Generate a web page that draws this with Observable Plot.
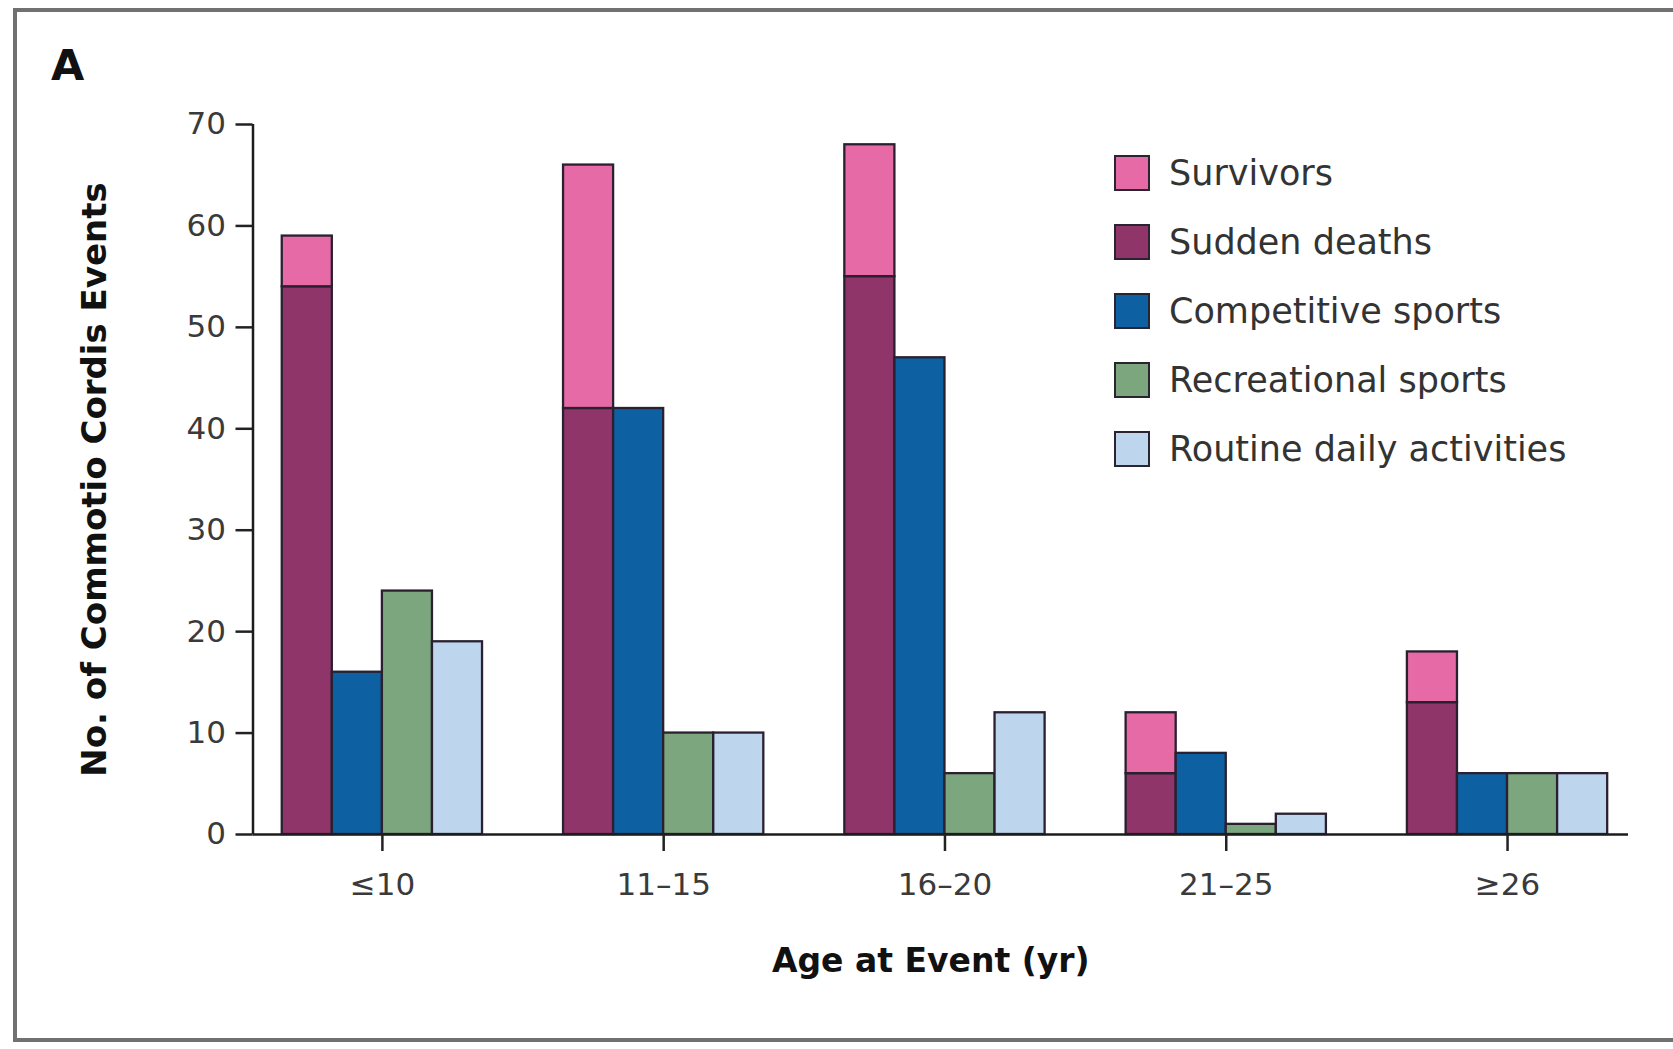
<!DOCTYPE html>
<html>
<head>
<meta charset="utf-8">
<script src="https://cdn.jsdelivr.net/npm/d3@7"></script>
<script src="https://cdn.jsdelivr.net/npm/@observablehq/plot@0.6"></script>
<style>
  html, body { margin: 0; padding: 0; background: #fff; }
  #panel { position: relative; width: 1673px; height: 1049px; overflow: hidden; font-family: "DejaVu Sans", sans-serif; }
  #border { position: absolute; left: 13px; top: 8px; width: 1720px; height: 1034px; border: 4px solid #717171; box-sizing: border-box; }
  #chart { position: absolute; left: 0; top: 0; }
  #tag { position: absolute; left: 51px; top: 44px; font-size: 43px; line-height: 1; font-weight: 700; color: #111; }
  #legend { position: absolute; left: 0; top: 0; }
  .row { position: absolute; display: flex; align-items: center; height: 36px; }
  .sw { width: 36px; height: 36px; box-sizing: border-box; border: 2px solid #2a2430; }
  .lab { margin-left: 19px; font-size: 35px; color: #333; line-height: 1; white-space: nowrap; }
</style>
</head>
<body>
<div id="panel">
  <div id="border"></div>
  <div id="chart"></div>
  <div id="tag">A</div>
  <div id="legend"></div>
</div>
<script>
// Commotio cordis events by age at event
const ageGroups = ["≤10", "11–15", "16–20", "21–25", "≥26"];
const survivors = [5, 24, 13, 6, 5];
const suddenDeaths = [54, 42, 55, 6, 13];
const competitive = [16, 42, 47, 8, 6];
const recreational = [24, 10, 6, 1, 6];
const routine = [19, 10, 12, 2, 6];

const seriesNames = ["Survivors", "Sudden deaths", "Competitive sports", "Recreational sports", "Routine daily activities"];
const seriesColors = ["#e56aa6", "#8f3569", "#0d61a2", "#7ba67e", "#bdd6ee"];
const yTicks = [0, 10, 20, 30, 40, 50, 60, 70];

const xLabel = "Age at Event (yr)";
const yLabel = "No. of Commotio Cordis Events";

// Four adjacent columns per age group: outcome (deaths with survivors on top),
// then competitive, recreational and routine activity counts.
const colWidth = 0.178;
const rows = [];
ageGroups.forEach((g, i) => {
  const edge = slot => i + (slot - 2) * colWidth;
  rows.push({series: "Sudden deaths", x1: edge(0), x2: edge(1), y1: 0, y2: suddenDeaths[i]});
  rows.push({series: "Survivors", x1: edge(0), x2: edge(1), y1: suddenDeaths[i], y2: suddenDeaths[i] + survivors[i]});
  rows.push({series: "Competitive sports", x1: edge(1), x2: edge(2), y1: 0, y2: competitive[i]});
  rows.push({series: "Recreational sports", x1: edge(2), x2: edge(3), y1: 0, y2: recreational[i]});
  rows.push({series: "Routine daily activities", x1: edge(3), x2: edge(4), y1: 0, y2: routine[i]});
});

const xDomain = [-0.46, 4.43];

const chart = Plot.plot({
  width: 1673,
  height: 1049,
  marginLeft: 252.5,
  marginRight: 45,
  marginTop: 124,
  marginBottom: 215,
  style: {fontFamily: "DejaVu Sans, sans-serif", background: "transparent", color: "#222", fontSize: "31px"},
  x: {domain: xDomain, axis: null},
  y: {domain: [0, 70], axis: null},
  color: {domain: seriesNames, range: seriesColors},
  marks: [
    Plot.rect(rows, {x1: "x1", x2: "x2", y1: "y1", y2: "y2", fill: "series", stroke: "#2a2030", strokeWidth: 2.3}),
    Plot.ruleY([0], {stroke: "#1c1c1c", strokeWidth: 2.5}),
    Plot.ruleX([xDomain[0]], {y1: 0, y2: 70, stroke: "#1c1c1c", strokeWidth: 2.5}),
    Plot.axisX({
      ticks: d3.range(ageGroups.length),
      tickFormat: i => ageGroups[i],
      tickSize: 17,
      tickPadding: 21,
      strokeWidth: 2.5,
      fontSize: 31,
      fill: "#3a3a3a",
      label: null
    }),
    Plot.axisY({
      ticks: yTicks,
      tickSize: 17,
      tickPadding: 10,
      strokeWidth: 2.5,
      fontSize: 31,
      fill: "#3a3a3a",
      label: null
    }),
    Plot.text([xLabel], {text: d => d, frameAnchor: "bottom", textAnchor: "middle", dx: -10, dy: 137, fontSize: 33, fontWeight: "bold", fill: "#111"}),
    Plot.text([yLabel], {text: d => d, frameAnchor: "left", textAnchor: "middle", dx: -158, rotate: -90, fontSize: 34, fontWeight: "bold", fill: "#111"})
  ]
});
document.getElementById("chart").appendChild(chart);

// Legend: one swatch per series
const legend = document.getElementById("legend");
seriesNames.forEach((name, k) => {
  const row = document.createElement("div");
  row.className = "row";
  row.style.left = "1114px";
  row.style.top = (155 + k * 69) + "px";
  const sw = document.createElement("div");
  sw.className = "sw";
  sw.style.background = seriesColors[k];
  const lab = document.createElement("div");
  lab.className = "lab";
  lab.textContent = name;
  row.appendChild(sw);
  row.appendChild(lab);
  legend.appendChild(row);
});
</script>
</body>
</html>
